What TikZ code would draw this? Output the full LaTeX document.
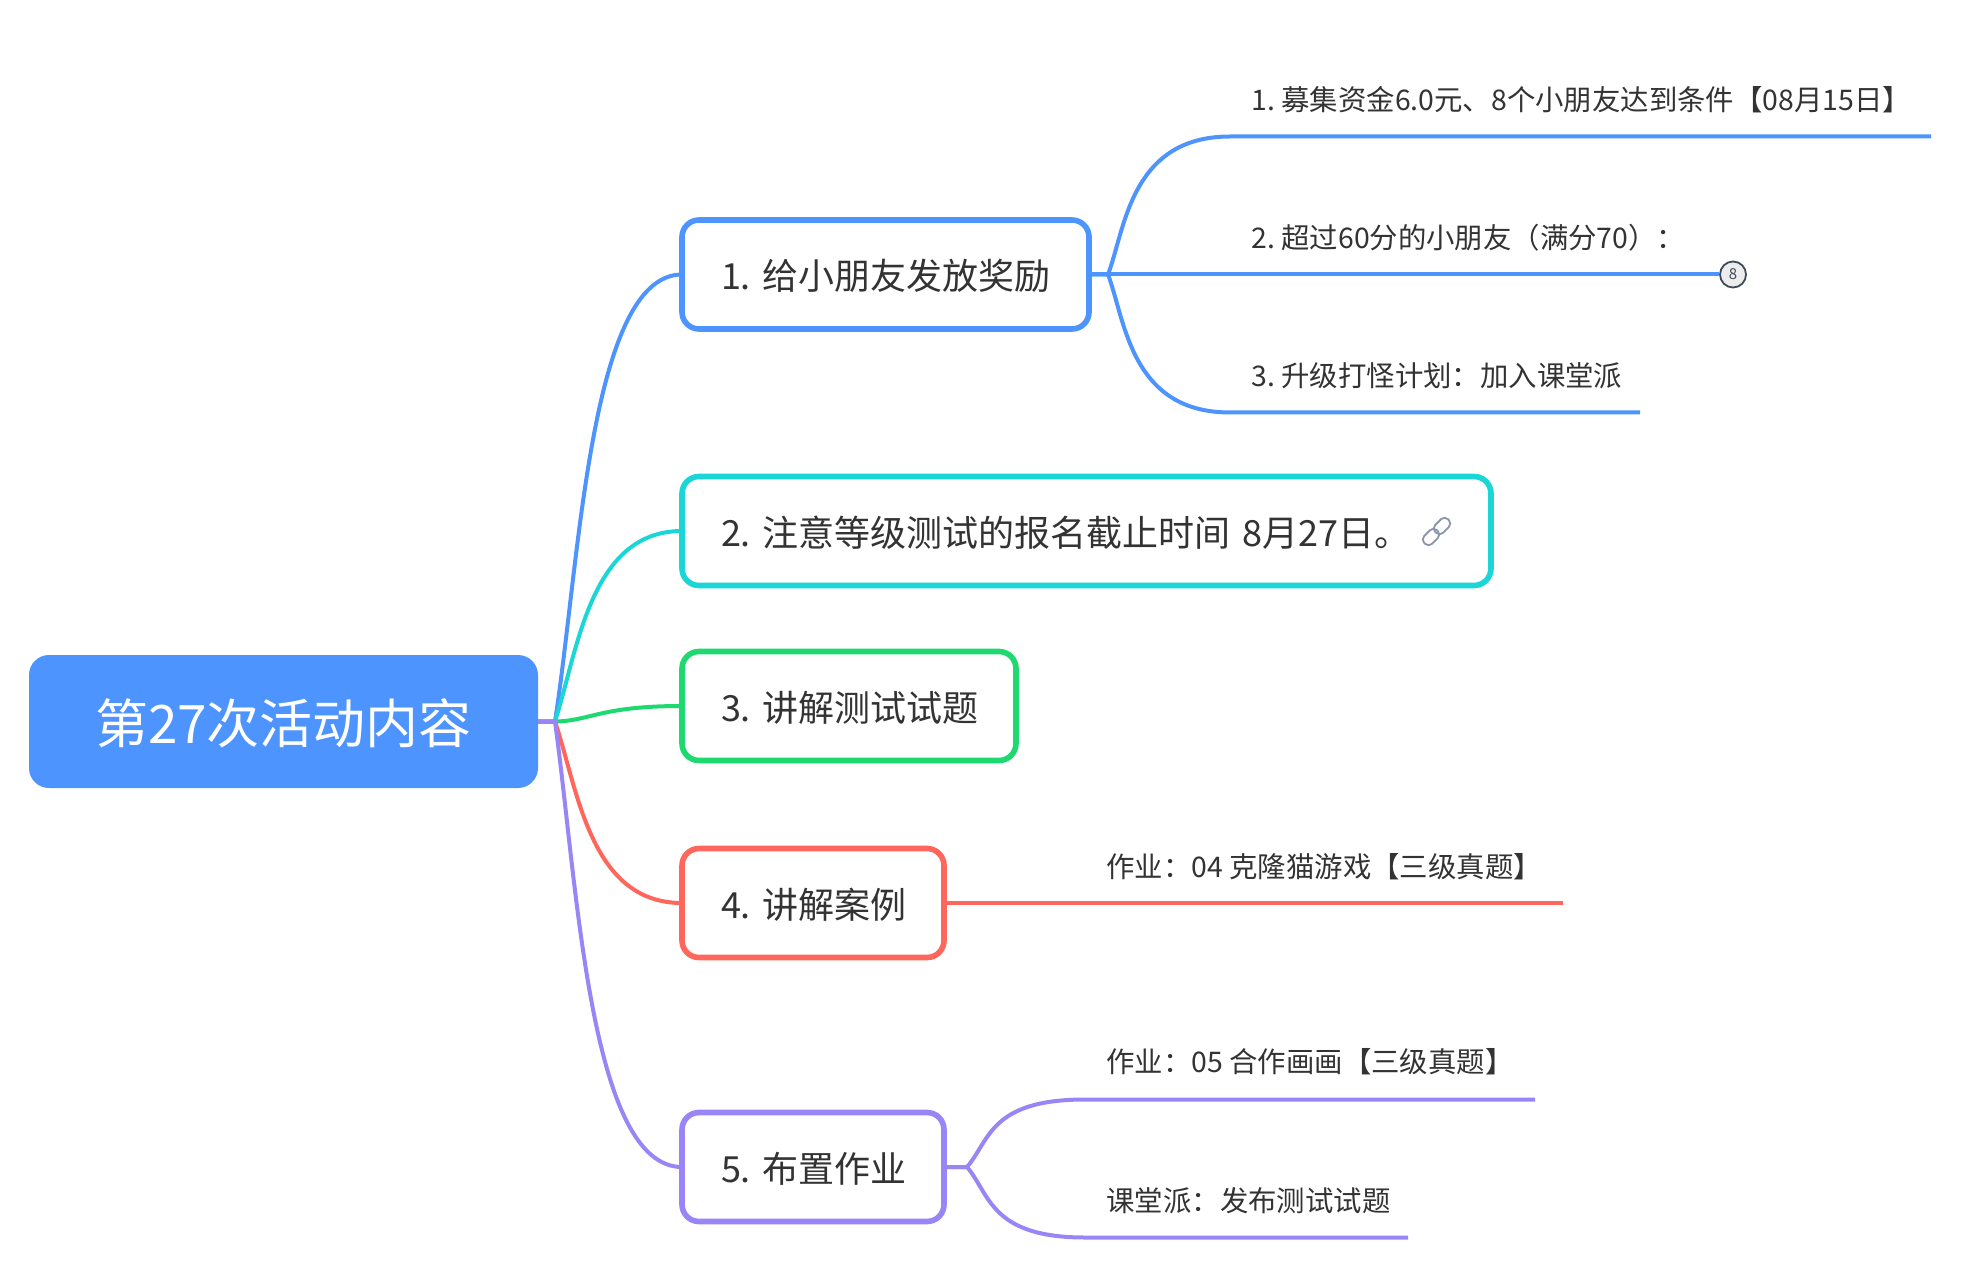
\documentclass[tikz,border=0pt]{standalone}
\usepackage{fontspec}
\setmainfont{Noto Sans CJK SC}
\usepackage{xcolor}
\usetikzlibrary{positioning}
\frenchspacing
\definecolor{cBlue}{RGB}{77,148,255}
\definecolor{cTeal}{RGB}{26,214,214}
\definecolor{cGreen}{RGB}{30,217,112}
\definecolor{cRed}{RGB}{255,102,92}
\definecolor{cPurple}{RGB}{153,133,245}
\definecolor{cText}{RGB}{51,51,51}
\definecolor{cIcon}{RGB}{140,149,171}
\definecolor{cBadge}{RGB}{63,74,90}

\begin{document}
\begin{tikzpicture}[
  x=0.5pt, y=-0.5pt,
  rootnode/.style={
    fill=cBlue, rounded corners=10pt, text=white, font=\fontsize{26.5}{30}\selectfont,
    minimum width=254.5pt, minimum height=66.5pt, outer sep=0pt,
    text height=25pt, text depth=3pt
  },
  topic/.style={
    draw=#1, fill=white, line width=2.8pt, rounded corners=8.5pt,
    anchor=west, inner xsep=19.5pt, inner ysep=0pt, outer sep=0pt, align=left,
    minimum height=54.5pt, text=cText, font=\fontsize{18}{22}\selectfont,
    text height=18.4pt, text depth=3pt
  },
  lbl/.style={
    anchor=west, inner sep=0pt, text=cText, font=\fontsize{14.2}{17}\selectfont
  },
  branch/.style={draw=#1, line width=2pt},
  twig/.style={draw=#1, line width=2pt},
  linkpart/.style={
    draw=cIcon, line width=0.9pt, rotate=45, rounded corners=2.4pt,
    minimum width=9pt, minimum height=5.5pt, inner sep=0pt
  },
  badge/.style={
    circle, draw=cBadge, fill=black!7, line width=0.9pt, minimum size=13pt,
    inner sep=0pt, text=cBadge, font=\fontsize{7.5}{9}\selectfont
  }
]
\useasboundingbox (0,0) rectangle (1962,1272);

% Root
\node[rootnode] (root) at (283.5,721.5) {第27次活动内容};
\coordinate (hub) at (555,721.5);

% Topics
\node[topic=cBlue, text width=164.5pt] (n1) at (682,274.5) {1.~给小朋友发放奖励};
\node[topic=cTeal, text width=365.5pt] (n2) at (682,531) {2.~注意等级测试的报名截止时间 8月27日。};
\node[topic=cGreen, text width=128pt] (n3) at (682,706) {3.~讲解测试试题};
\node[topic=cRed, text width=92pt] (n4) at (682,903) {4.~讲解案例};
\node[topic=cPurple, text width=92pt] (n5) at (682,1167) {5.~布置作业};

% Link icon
\node[linkpart] (link1) at (1431,537) {};
\node[linkpart] (link2) at (1442,526) {};

% Branches
\draw[branch=cBlue] (root.east) -- (hub) .. controls (580,560) and (590,274.5) .. (n1.west);
\draw[branch=cTeal] (root.east) -- (hub) .. controls (578,650) and (590,531) .. (n2.west);
\draw[branch=cGreen] (root.east) -- (hub) .. controls (590,721) and (600,706) .. (n3.west);
\draw[branch=cRed] (root.east) -- (hub) .. controls (578,790) and (590,903) .. (n4.west);
\draw[branch=cPurple] (root.east) -- (hub) .. controls (578,890) and (590,1167) .. (n5.west);

% Leaves of topic 1
\node[lbl] (l1a) at (1251,100) {1. 募集资金6.0元、8个小朋友达到条件【08月15日】};
\node[lbl] (l1b) at (1251,238) {2. 超过60分的小朋友（满分70）：};
\node[lbl] (l1c) at (1251,376) {3. 升级打怪计划：加入课堂派};
\node[badge] (count) at (1733,274.5) {8};
\coordinate (fork1) at (1108,274.5);
\coordinate (a1) at (1230,136.5);
\coordinate (a2) at (1931,136.5);
\coordinate (c1) at (1230,412.5);
\coordinate (c2) at (1640,412.5);
\draw[twig=cBlue] (n1.east) -- (fork1) .. controls (1125,230) and (1130,136.5) .. (a1) -- (a2);
\draw[twig=cBlue] (n1.east) -- (count);
\draw[twig=cBlue] (n1.east) -- (fork1) .. controls (1125,319) and (1130,412.5) .. (c1) -- (c2);

% Leaf of topic 4
\node[lbl] (l4) at (1106,867) {作业：04 克隆猫游戏【三级真题】};
\coordinate (d1) at (1563,903);
\draw[twig=cRed] (n4.east) -- (d1);

% Leaves of topic 5
\node[lbl] (l5a) at (1106,1062) {作业：05 合作画画【三级真题】};
\node[lbl] (l5b) at (1106,1201) {课堂派：发布测试试题};
\coordinate (fork5) at (967,1167);
\coordinate (e1) at (1085,1099.5);
\coordinate (e2) at (1535,1099.5);
\coordinate (f1) at (1085,1237.5);
\coordinate (f2) at (1408,1237.5);
\draw[twig=cPurple] (n5.east) -- (fork5) .. controls (990,1140) and (990,1099.5) .. (e1) -- (e2);
\draw[twig=cPurple] (n5.east) -- (fork5) .. controls (990,1194) and (990,1237.5) .. (f1) -- (f2);

\end{tikzpicture}
\end{document}
